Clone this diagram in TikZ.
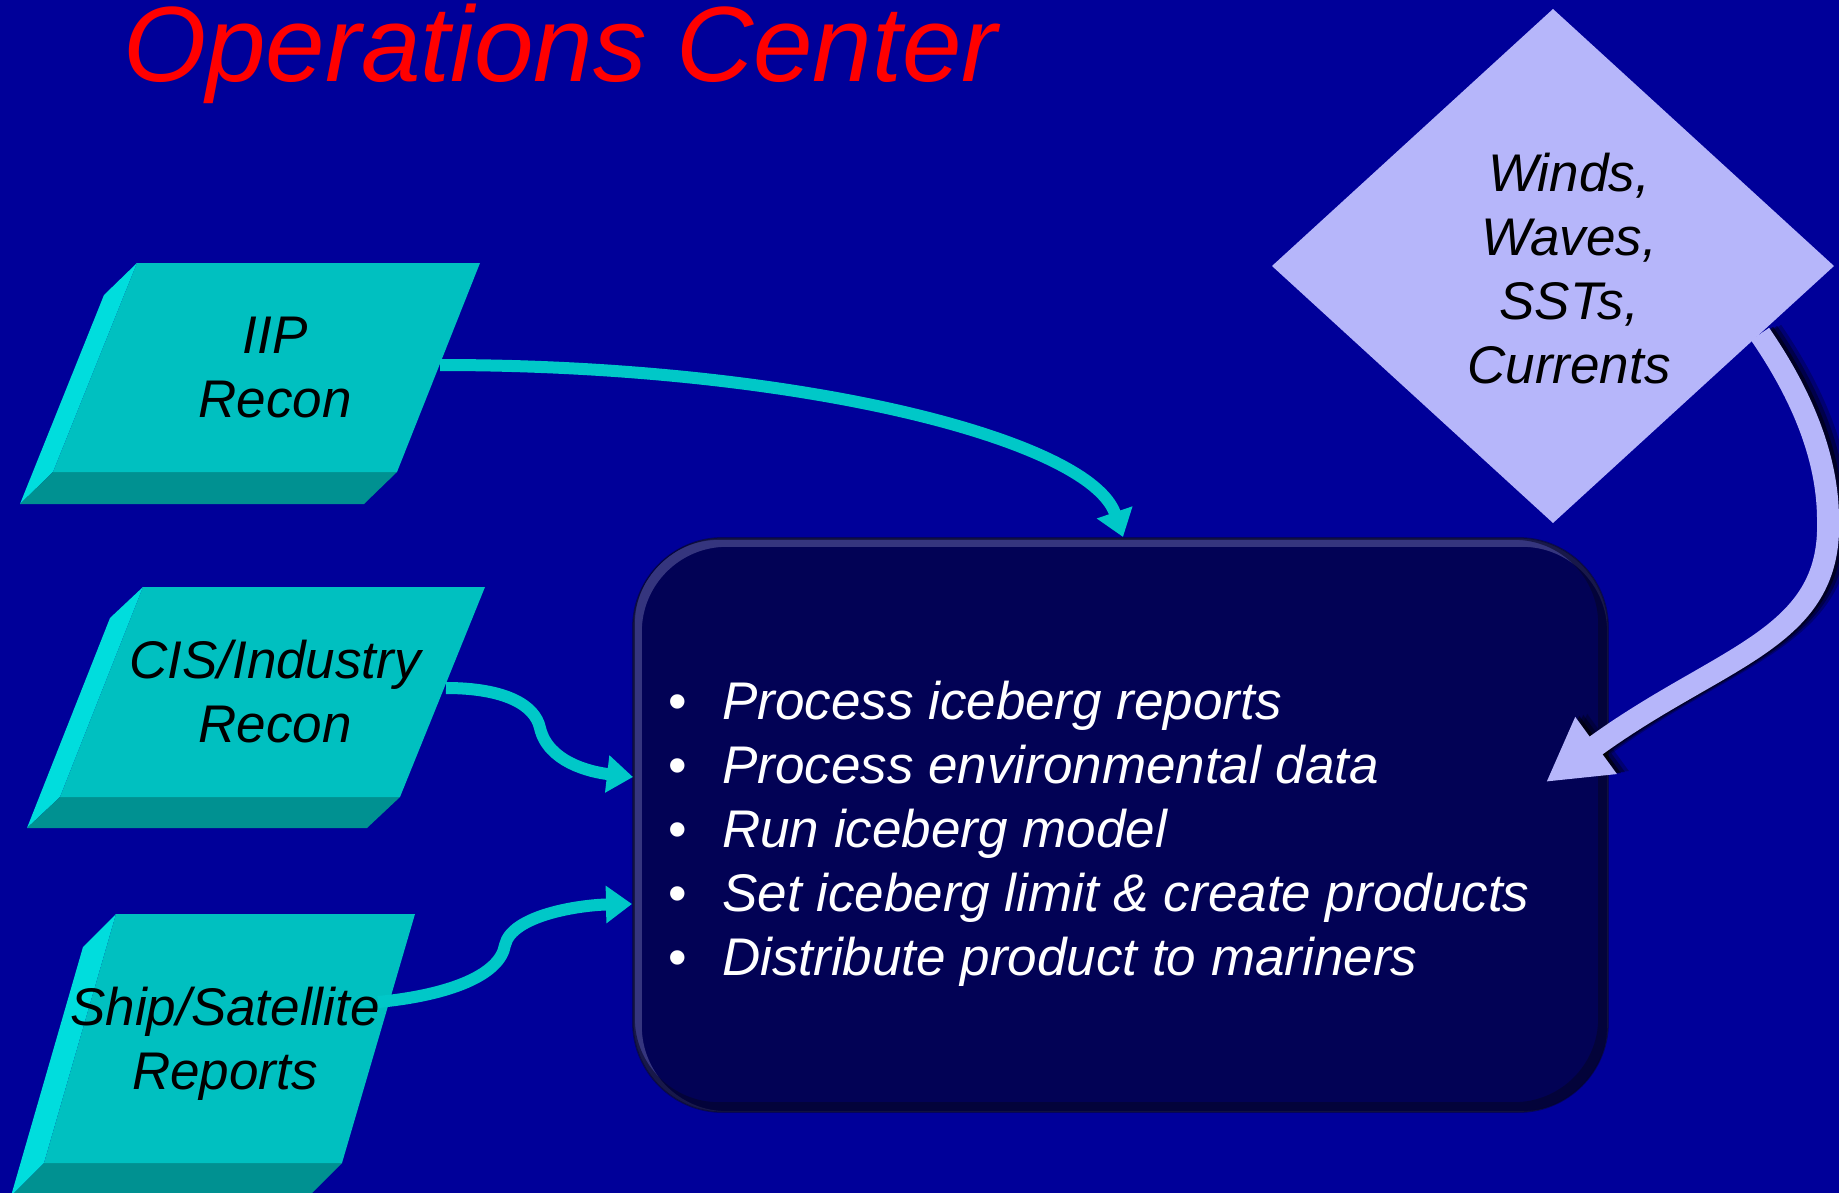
\documentclass[tikz,border=0pt]{standalone}
\usepackage{fontspec}
\setmainfont{Liberation Sans}
\usepackage{graphicx}
\usetikzlibrary{arrows.meta}
\definecolor{bg}{RGB}{0,0,153}
\definecolor{boxtop}{RGB}{0,192,192}
\definecolor{boxside}{RGB}{0,221,221}
\definecolor{boxbot}{RGB}{0,145,145}
\definecolor{cyanarrow}{RGB}{0,200,200}
\definecolor{lav}{RGB}{182,182,250}
\definecolor{opsfill}{RGB}{2,2,85}
\definecolor{opslight}{RGB}{95,95,160}
\definecolor{opsdark}{RGB}{5,5,40}
\definecolor{titlered}{RGB}{255,0,0}
\tikzset{
  topface/.style={fill=boxtop},
  sideface/.style={fill=boxside},
  botface/.style={fill=boxbot},
  boxlabel/.style={align=center, inner sep=0pt, text=black,
    font=\fontsize{53}{64}\selectfont\itshape},
  bullettext/.style={anchor=base west, inner sep=0pt, text=white,
    font=\fontsize{53}{64}\selectfont\itshape},
  opsbox/.style={fill=opsfill, rounded corners=90pt,
    minimum width=975pt, minimum height=574pt, inner sep=0pt},
  cyanconn/.style={draw=cyanarrow, line width=12pt,
    -{Triangle[length=26pt,width=36pt,fill=cyanarrow]}},
  lavconn/.style={draw=lav, line width=22pt,
    -{Triangle[length=62pt,width=66pt,fill=lav]}},
  lavshadow/.style={draw=black, line width=22pt, opacity=#1,
    -{Triangle[length=62pt,width=66pt,fill=black]}},
}
\begin{document}
\begin{tikzpicture}[x=1pt,y=-1pt]
\useasboundingbox (0,0) rectangle (1839,1193);
\fill[bg] (0,0) rectangle (1839,1193);

% title
\node[anchor=base west, inner sep=0pt, text=titlered,
  font=\fontsize{107}{120}\selectfont\itshape] (title) at (123,82)
  {Operations Center};

% box 1: IIP Recon
\fill[sideface] (137,263) -- (104,295) -- (20,504) -- (53,472) -- cycle;
\fill[botface] (53,472) -- (397,472) -- (364,504) -- (20,504) -- cycle;
\fill[topface] (137,263) -- (480,263) -- (397,472) -- (53,472) -- cycle;
\node[boxlabel] (iip) at (275,368) {IIP\\Recon};

% box 2: CIS/Industry Recon
\fill[sideface] (143,587) -- (110,618) -- (27,828) -- (60,797) -- cycle;
\fill[botface] (60,797) -- (400,797) -- (367,828) -- (27,828) -- cycle;
\fill[topface] (143,587) -- (485,587) -- (400,797) -- (60,797) -- cycle;
\node[boxlabel] (cis) at (275,692) {CIS/Industry\\Recon};

% box 3: Ship/Satellite Reports
\fill[sideface] (116,914) -- (83,947) -- (11,1196) -- (44,1163) -- cycle;
\fill[botface] (44,1163) -- (342,1163) -- (309,1196) -- (11,1196) -- cycle;
\fill[topface] (116,914) -- (415,914) -- (342,1163) -- (44,1163) -- cycle;
\node[boxlabel] (ship) at (225,1044) {Ship/Satellite\\Reports};

% diamond
\fill[lav] (1553,9) -- (1834,266) -- (1553,523) -- (1272,266) -- cycle;
\node[boxlabel] (env) at (1569,269) {Winds,\\Waves,\\SSTs,\\Currents};

% operations box with bevelled rim
\node[opsbox] (ops) at (1120.5,825) {};
\begin{scope}
  \clip[rounded corners=90pt] (ops.south west) rectangle (ops.north east);
  \begin{scope}[transform canvas={shift={(4pt,-4pt)}}]
    \draw[opslight, line width=10pt, opacity=0.55, rounded corners=90pt]
      (ops.south west) rectangle (ops.north east);
  \end{scope}
  \begin{scope}[transform canvas={shift={(-4pt,4pt)}}]
    \draw[opsdark, line width=12pt, opacity=0.6, rounded corners=90pt]
      (ops.south west) rectangle (ops.north east);
  \end{scope}
\end{scope}
\draw[opsdark, line width=1.5pt, opacity=0.5, rounded corners=90pt]
  (ops.south west) rectangle (ops.north east);

\node[bullettext] (b1) at (668,719) {\makebox[54pt][l]{\upshape\textbullet}Process iceberg reports};
\node[bullettext] (b2) at (668,783) {\makebox[54pt][l]{\upshape\textbullet}Process environmental data};
\node[bullettext] (b3) at (668,847) {\makebox[54pt][l]{\upshape\textbullet}Run iceberg model};
\node[bullettext] (b4) at (668,911) {\makebox[54pt][l]{\upshape\textbullet}Set iceberg limit \& create products};
\node[bullettext] (b5) at (668,975) {\makebox[54pt][l]{\upshape\textbullet}Distribute product to mariners};

% connector end points
\coordinate (iipout) at (440,365);
\coordinate (iipin) at (1123,537);
\coordinate (cisout) at (446,688);
\coordinate (cisin) at (633,777);
\coordinate (shipout) at (378,1002);
\coordinate (shipin) at (632,904);
\coordinate (envout) at (1760,334);
\coordinate (envin) at (1546,782);

% cyan connectors
\draw[cyanconn] (iipout) .. controls (800,365) and (1090,440) .. (iipin);
\draw[cyanconn] (cisout) .. controls (505,688) and (535,705) .. (540,728)
  .. controls (548,762) and (590,772) .. (cisin);
\draw[cyanconn] (shipout) .. controls (450,995) and (500,975) .. (505,945)
  .. controls (512,915) and (580,905) .. (shipin);

% lavender connector with soft shadow
\foreach \sx/\sy/\op in {12/3/0.25, 8/2/0.35, 4/1/0.5}{
  \begin{scope}[transform canvas={shift={(\sx pt,\sy pt)}}]
  \draw[lavshadow=\op] (envout) .. controls (1795,385) and (1828,450) .. (1828,520)
    .. controls (1832,640) and (1720,655) .. (envin);
  \end{scope}
}
\draw[lavconn] (envout) .. controls (1795,385) and (1828,450) .. (1828,520)
  .. controls (1832,640) and (1720,655) .. (envin);
\end{tikzpicture}
\end{document}
